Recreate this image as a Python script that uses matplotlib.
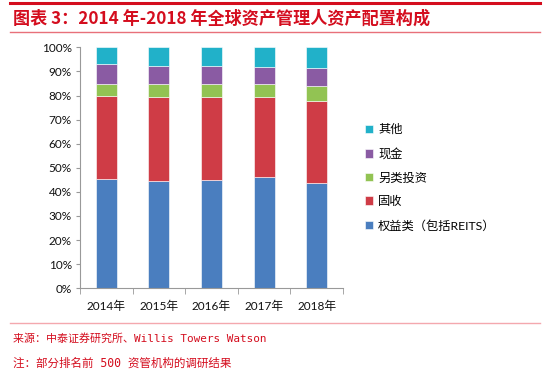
import matplotlib
matplotlib.use('Agg')
import matplotlib.pyplot as plt
from matplotlib.lines import Line2D
from matplotlib.ticker import FixedLocator, PercentFormatter
import numpy as np

plt.rcParams['font.family'] = ['Lato', 'Noto Sans CJK SC', 'DejaVu Sans']

years = ['2014年', '2015年', '2016年', '2017年', '2018年']
series_names = ['权益类（包括REITS）', '固收', '另类投资', '现金', '其他']
equity = [45.2, 44.6, 44.8, 46.2, 43.6]
fixed_income = [34.5, 34.9, 34.4, 33.2, 34.3]
alternative = [5.1, 5.1, 5.4, 5.5, 6.0]
cash = [8.1, 7.6, 7.6, 7.1, 7.6]
other = [7.1, 7.8, 7.8, 8.0, 8.5]
colors = ['#4a7ebf', '#cf3c46', '#92c353', '#8a5ba3', '#21b1c9']

red = '#d40d1e'

fig = plt.figure(figsize=(5.5, 3.77), dpi=100)
ax = fig.add_axes([0.1455, 0.2353, 0.478, 0.6392])

x = np.arange(len(years))
bottom = np.zeros(len(years))
handles = []
for name, vals, c in zip(series_names, [equity, fixed_income, alternative, cash, other], colors):
    vals = np.array(vals)
    b = ax.bar(x, vals, 0.4, bottom=bottom, color=c, label=name,
               edgecolor='white', linewidth=0.4)
    bottom += vals
    handles.append(b)

ax.set_xlim(-0.5, len(years) - 0.5)
ax.set_ylim(0, 100)
ax.yaxis.set_major_locator(FixedLocator(np.arange(0, 101, 10)))
ax.yaxis.set_major_formatter(PercentFormatter(decimals=0))
ax.set_xticks(x)
ax.set_xticklabels(years)
ax.xaxis.set_minor_locator(FixedLocator(np.arange(-0.5, len(years), 1)))
ax.tick_params(axis='x', which='major', length=0, pad=9, labelsize=8.5, labelcolor='#111111')
ax.tick_params(axis='x', which='minor', length=4, color='#999999', direction='out')
ax.tick_params(axis='y', length=3, color='#999999', labelsize=8.5, pad=3, labelcolor='#111111')
for s in ['top', 'right']:
    ax.spines[s].set_visible(False)
for s in ['left', 'bottom']:
    ax.spines[s].set_color('#999999')
    ax.spines[s].set_linewidth(0.8)

leg = fig.legend(handles[::-1], series_names[::-1], loc='upper left',
                 bbox_to_anchor=(0.643, 0.7), frameon=False, fontsize=8.8,
                 handlelength=0.7, handleheight=0.7, handletextpad=0.4,
                 labelspacing=1.02)

# header and footer decorations
fig.add_artist(Line2D([0.018, 0.982], [0.991, 0.991], color=red, lw=2.2))
fig.add_artist(Line2D([0.018, 0.982], [0.915, 0.915], color='#e8707a', lw=1.0))
fig.add_artist(Line2D([0.018, 0.982], [0.1424, 0.1424], color='#f4a8ae', lw=1.0))

fig.text(0.024, 0.951, '图表 3：2014 年-2018 年全球资产管理人资产配置构成',
         color=red, fontsize=12.3, fontweight='bold', style='italic',
         family=['Noto Sans CJK SC', 'DejaVu Sans'], va='center')
fig.text(0.024, 0.1034, '来源：中泰证券研究所、Willis Towers Watson', color=red,
         fontsize=7.9, family=['DejaVu Sans Mono', 'Noto Sans CJK SC'], va='center')
fig.text(0.024, 0.037, '注：部分排名前 500 资管机构的调研结果', color=red,
         fontsize=8.3, family=['DejaVu Sans Mono', 'Noto Sans CJK SC'], va='center')

plt.savefig('out.png', dpi=100)
